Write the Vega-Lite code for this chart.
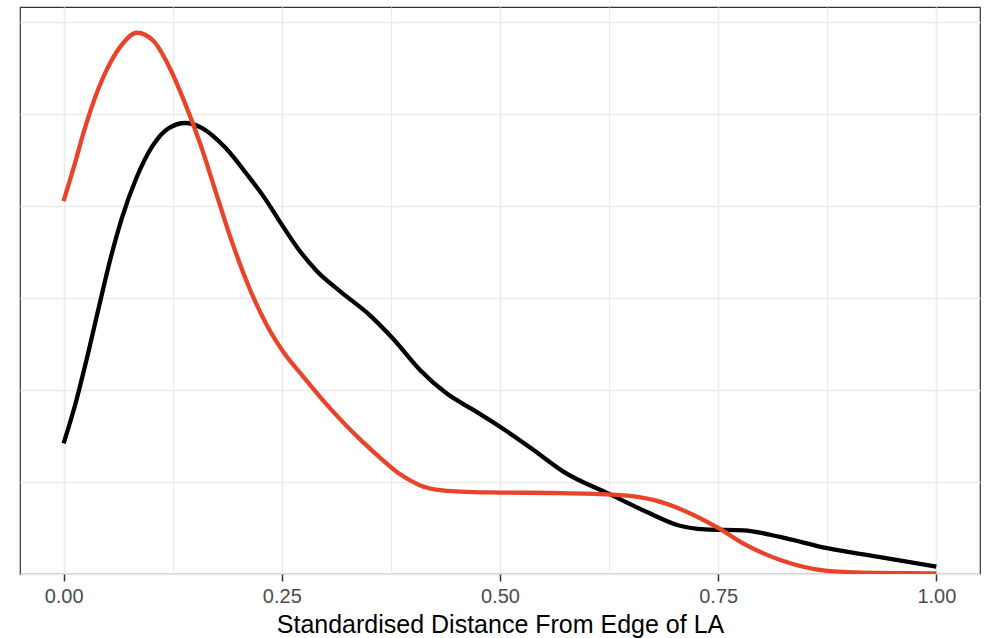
{
  "$schema": "https://vega.github.io/schema/vega-lite/v6.json",
  "autosize": {"type": "none"},
  "padding": {"left": 20, "top": 7, "right": 12, "bottom": 64},
  "width": 960,
  "height": 567,
  "background": "white",
  "config": {
    "view": {"stroke": "#333333", "strokeWidth": 1.2},
    "font": "Liberation Sans"
  },
  "data": {
    "values": [
      {"group": "black", "x": 0.000, "y": 1.42},
      {"group": "black", "x": 0.0137, "y": 1.855},
      {"group": "black", "x": 0.0271, "y": 2.36},
      {"group": "black", "x": 0.0404, "y": 2.90},
      {"group": "black", "x": 0.0538, "y": 3.43},
      {"group": "black", "x": 0.0672, "y": 3.88},
      {"group": "black", "x": 0.0824, "y": 4.28},
      {"group": "black", "x": 0.1015, "y": 4.645},
      {"group": "black", "x": 0.1205, "y": 4.845},
      {"group": "black", "x": 0.1396, "y": 4.90},
      {"group": "black", "x": 0.1587, "y": 4.845},
      {"group": "black", "x": 0.1854, "y": 4.63},
      {"group": "black", "x": 0.2102, "y": 4.34},
      {"group": "black", "x": 0.2292, "y": 4.10},
      {"group": "black", "x": 0.2483, "y": 3.82},
      {"group": "black", "x": 0.2674, "y": 3.55},
      {"group": "black", "x": 0.2903, "y": 3.29},
      {"group": "black", "x": 0.3169, "y": 3.07},
      {"group": "black", "x": 0.351, "y": 2.81},
      {"group": "black", "x": 0.378, "y": 2.55},
      {"group": "black", "x": 0.408, "y": 2.22},
      {"group": "black", "x": 0.439, "y": 1.96},
      {"group": "black", "x": 0.470, "y": 1.78},
      {"group": "black", "x": 0.500, "y": 1.60},
      {"group": "black", "x": 0.538, "y": 1.35},
      {"group": "black", "x": 0.573, "y": 1.11},
      {"group": "black", "x": 0.625, "y": 0.87},
      {"group": "black", "x": 0.669, "y": 0.67},
      {"group": "black", "x": 0.704, "y": 0.53},
      {"group": "black", "x": 0.735, "y": 0.485},
      {"group": "black", "x": 0.779, "y": 0.475},
      {"group": "black", "x": 0.822, "y": 0.40},
      {"group": "black", "x": 0.875, "y": 0.28},
      {"group": "black", "x": 0.932, "y": 0.19},
      {"group": "black", "x": 1.000, "y": 0.08},
      {"group": "red", "x": 0.000, "y": 4.05},
      {"group": "red", "x": 0.012, "y": 4.43},
      {"group": "red", "x": 0.023, "y": 4.80},
      {"group": "red", "x": 0.035, "y": 5.15},
      {"group": "red", "x": 0.050, "y": 5.49},
      {"group": "red", "x": 0.065, "y": 5.73},
      {"group": "red", "x": 0.084, "y": 5.88},
      {"group": "red", "x": 0.103, "y": 5.79},
      {"group": "red", "x": 0.122, "y": 5.49},
      {"group": "red", "x": 0.138, "y": 5.14},
      {"group": "red", "x": 0.157, "y": 4.66},
      {"group": "red", "x": 0.172, "y": 4.22},
      {"group": "red", "x": 0.191, "y": 3.66},
      {"group": "red", "x": 0.214, "y": 3.08},
      {"group": "red", "x": 0.233, "y": 2.70},
      {"group": "red", "x": 0.252, "y": 2.41},
      {"group": "red", "x": 0.275, "y": 2.14},
      {"group": "red", "x": 0.296, "y": 1.90},
      {"group": "red", "x": 0.317, "y": 1.68},
      {"group": "red", "x": 0.340, "y": 1.46},
      {"group": "red", "x": 0.363, "y": 1.26},
      {"group": "red", "x": 0.386, "y": 1.08},
      {"group": "red", "x": 0.408, "y": 0.965},
      {"group": "red", "x": 0.431, "y": 0.91},
      {"group": "red", "x": 0.454, "y": 0.895},
      {"group": "red", "x": 0.500, "y": 0.885},
      {"group": "red", "x": 0.560, "y": 0.88},
      {"group": "red", "x": 0.634, "y": 0.86},
      {"group": "red", "x": 0.678, "y": 0.80},
      {"group": "red", "x": 0.713, "y": 0.68},
      {"group": "red", "x": 0.750, "y": 0.50},
      {"group": "red", "x": 0.779, "y": 0.33},
      {"group": "red", "x": 0.822, "y": 0.15},
      {"group": "red", "x": 0.875, "y": 0.035},
      {"group": "red", "x": 0.932, "y": 0.012},
      {"group": "red", "x": 1.000, "y": 0.006}
    ]
  },
  "mark": {"type": "line", "strokeWidth": 4.3, "interpolate": "monotone", "clip": true},
  "encoding": {
    "x": {
      "field": "x",
      "type": "quantitative",
      "scale": {"domain": [-0.05, 1.05], "nice": false, "zero": false},
      "axis": {
        "title": "Standardised Distance From Edge of LA",
        "titleFont": "Liberation Sans",
        "titleFontSize": 25,
        "titleFontWeight": "normal",
        "titleColor": "#000000",
        "titlePadding": 6,
        "values": [0, 0.125, 0.25, 0.375, 0.5, 0.625, 0.75, 0.875, 1],
        "labelExpr": "(datum.value * 4) % 1 === 0 ? format(datum.value, '.2f') : ''",
        "labelFont": "Liberation Sans",
        "labelFontSize": 20,
        "labelColor": "#4D4D4D",
        "labelPadding": 5,
        "labelFlush": false,
        "labelOverlap": false,
        "domain": false,
        "ticks": true,
        "tickSize": 7,
        "tickWidth": 1.5,
        "tickColor": "#333333",
        "tickOpacity": {"condition": {"test": "(datum.value * 4) % 1 === 0", "value": 1}, "value": 0},
        "grid": true,
        "gridColor": "#EBEBEB",
        "gridWidth": {"condition": {"test": "(datum.value * 4) % 1 === 0", "value": 1.6}, "value": 1.1}
      }
    },
    "y": {
      "field": "y",
      "type": "quantitative",
      "scale": {"domain": [0, 6.16], "nice": false, "zero": false},
      "axis": {
        "title": null,
        "values": [0, 1, 2, 3, 4, 5, 6],
        "labels": false,
        "ticks": false,
        "domain": false,
        "grid": true,
        "gridColor": "#EBEBEB",
        "gridWidth": 1.4
      }
    },
    "color": {
      "field": "group",
      "type": "nominal",
      "scale": {"domain": ["black", "red"], "range": ["#000000", "#E9432B"]},
      "legend": null
    }
  }
}
